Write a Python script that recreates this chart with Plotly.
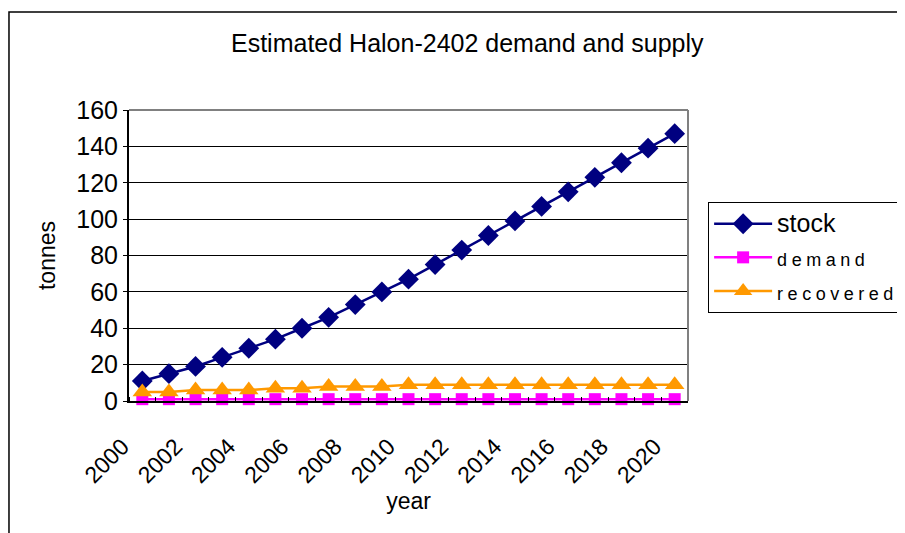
import plotly.graph_objects as go

years = list(range(2000, 2021))
stock = [11, 15, 19, 24, 29, 34, 40, 46, 53, 60, 67, 75, 83, 91, 99, 107, 115, 123, 131, 139, 147]
demand = [1] * 21
recovered = [5, 5, 6, 6, 6, 7, 7, 8, 8, 8, 9, 9, 9, 9, 9, 9, 9, 9, 9, 9, 9]
tick_years = list(range(2000, 2021, 2))
tick_text = [str(y) for y in tick_years]
y_ticks = list(range(0, 161, 20))

FONT = "Arial, Liberation Sans, sans-serif"
SPACED = "<span style='letter-spacing:4.5px;font-size:18px'>{}</span>"

fig = go.Figure()
fig.add_trace(go.Scatter(
    x=years, y=stock, mode="lines+markers", legendgroup="a", cliponaxis=False,
    name="<span style='font-size:25px'>stock</span>",
    line=dict(color="#000080", width=2.5),
    marker=dict(symbol="diamond", size=16, color="#000080")))
fig.add_trace(go.Scatter(
    x=years, y=demand, mode="lines+markers", legendgroup="b", cliponaxis=False,
    name=SPACED.format("demand"),
    line=dict(color="#FF00FF", width=2.5),
    marker=dict(symbol="square", size=12, color="#FF00FF")))
fig.add_trace(go.Scatter(
    x=years, y=recovered, mode="lines+markers", legendgroup="c", cliponaxis=False,
    name=SPACED.format("recovered"),
    line=dict(color="#FF9900", width=2.5),
    marker=dict(symbol="triangle-up", size=17, color="#FF9900")))

# plot-area top/right border (grey) and outer chart border
fig.add_shape(type="line", xref="x domain", yref="y domain", x0=0, x1=1, y0=1, y1=1,
              line=dict(color="#808080", width=2))
fig.add_shape(type="line", xref="x domain", yref="y domain", x0=1, x1=1, y0=0, y1=1,
              line=dict(color="#808080", width=2))
fig.add_shape(type="rect", xref="paper", yref="paper", x0=-0.2147, x1=2.0, y0=-2.0, y1=1.3368,
              line=dict(color="black", width=1.5), layer="below")

fig.update_layout(
    width=897, height=525,
    margin=dict(l=121, r=217, t=102, b=132, autoexpand=False),
    paper_bgcolor="white", plot_bgcolor="white",
    font=dict(family=FONT, color="black", size=22),
    title=dict(text="Estimated Halon-2402 demand and supply", x=0.512, xanchor="center",
               y=0.933, yanchor="middle", font=dict(size=25, family=FONT)),
    showlegend=True,
    legend=dict(x=1.036, y=0.684, xanchor="left", yanchor="top",
                bordercolor="black", borderwidth=1, bgcolor="white",
                font=dict(size=22, family=FONT), tracegroupgap=2,
                itemwidth=58),
)
fig.update_xaxes(
    automargin=False,
    range=[1999.5, 2020.5], tickmode="array", tickvals=tick_years, ticktext=tick_text,
    tickangle=-45, ticks="", showgrid=False, zeroline=False,
    showline=True, linecolor="black", linewidth=2,
    tickfont=dict(size=23, family=FONT),
    ticklabelshift=-20, ticklabelstandoff=21,
    minor=dict(tickmode="array", tickvals=[y + 0.5 for y in range(1999, 2021)],
               ticks="inside", ticklen=4, tickcolor="black", tickwidth=1, showgrid=False),
    title=dict(text="year", font=dict(size=23, family=FONT), standoff=0),
)
fig.update_yaxes(
    automargin=False,
    range=[0, 160], tickmode="array", tickvals=y_ticks,
    ticks="outside", ticklen=4, tickcolor="black",
    showgrid=True, gridcolor="black", gridwidth=1, zeroline=False,
    showline=True, linecolor="black", linewidth=2,
    tickfont=dict(size=25, family=FONT),
    title=dict(text="tonnes", font=dict(size=23, family=FONT), standoff=14),
)

fig.write_html("out.html")
